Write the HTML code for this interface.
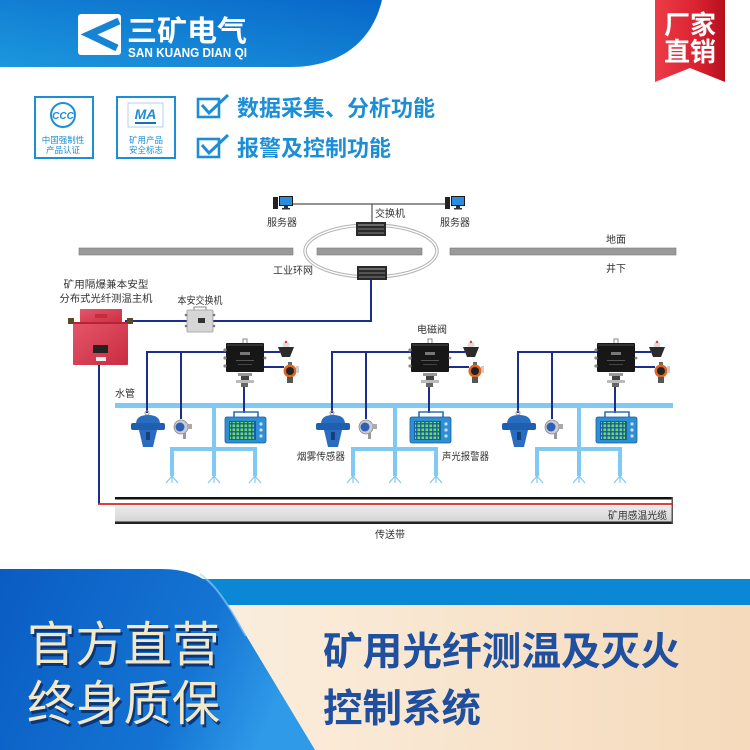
<!DOCTYPE html>
<html><head><meta charset="utf-8"><style>
html,body{margin:0;padding:0;background:#fff;}
svg{display:block;}
text{font-family:"Liberation Sans","Noto Sans CJK SC",sans-serif;}
</style></head><body>
<svg width="750" height="750" viewBox="0 0 750 750" xmlns="http://www.w3.org/2000/svg">
<defs>
<linearGradient id="hdr" x1="0" y1="1" x2="1" y2="0">
 <stop offset="0" stop-color="#1c97dd"/><stop offset="1" stop-color="#0867c9"/>
</linearGradient>
<linearGradient id="rib" x1="0" y1="0" x2="1" y2="0">
 <stop offset="0" stop-color="#ec3c48"/><stop offset="0.6" stop-color="#da2230"/><stop offset="1" stop-color="#b5101e"/>
</linearGradient>
<linearGradient id="cream" x1="0" y1="0" x2="1" y2="0">
 <stop offset="0" stop-color="#fdf6ec"/><stop offset="1" stop-color="#f5dabb"/>
</linearGradient>
<linearGradient id="lblue" x1="0" y1="0" x2="1" y2="0.25">
 <stop offset="0" stop-color="#0a5cc2"/><stop offset="0.7" stop-color="#1474d3"/><stop offset="1" stop-color="#2f9ae8"/>
</linearGradient>
<linearGradient id="belt" x1="0" y1="0" x2="0" y2="1">
 <stop offset="0" stop-color="#ececec"/><stop offset="1" stop-color="#d4d4d4"/>
</linearGradient>
<linearGradient id="hostg" x1="0" y1="0" x2="1" y2="1">
 <stop offset="0" stop-color="#e5566a"/><stop offset="1" stop-color="#c92c40"/>
</linearGradient>
<pattern id="grid" width="4" height="4" patternUnits="userSpaceOnUse">
 <rect x="0.5" y="0.5" width="2.6" height="2.6" fill="#6fdc6a"/>
</pattern>

<g id="dev">
 <!-- navy lines -->
 <path d="M147,413 V352 H226 M181,352 V419 M264,352 H280 M264,367 H284 M244,387 V413" stroke="#1c2d8c" stroke-width="2" fill="none"/>
 <!-- control box -->
 <path d="M243,343 V339 H247 V343" stroke="#888" stroke-width="1" fill="none"/>
 <rect x="226" y="343" width="38" height="29" fill="#171717" rx="1"/>
 <rect x="227" y="344" width="36" height="2" fill="#333"/>
 <rect x="240" y="352" width="10" height="3" fill="#777"/>
 <rect x="236" y="360" width="18" height="1" fill="#555"/>
 <rect x="238" y="364" width="14" height="1" fill="#444"/>
 <circle cx="225" cy="350" r="1.6" fill="#888"/><circle cx="225" cy="358" r="1.6" fill="#888"/><circle cx="225" cy="366" r="1.6" fill="#888"/>
 <circle cx="265" cy="358" r="1.4" fill="#888"/>
 <!-- valve -->
 <rect x="238" y="373" width="14" height="3" fill="#999"/>
 <rect x="241" y="376" width="8" height="5" fill="#444"/>
 <rect x="236" y="380" width="18" height="3" fill="#bbb"/>
 <rect x="241" y="383" width="7" height="4" fill="#666"/>
 <!-- beacon -->
 <circle cx="286" cy="345" r="3.5" fill="#ddd"/>
 <circle cx="286" cy="342" r="1.2" fill="#e33"/>
 <path d="M278,347 L294,347 L290,357 L282,357 Z" fill="#2b2b2b"/>
 <!-- gas detector -->
 <rect x="288" y="362" width="4" height="3" fill="#666"/>
 <circle cx="290" cy="371" r="6.5" fill="#e0661f"/>
 <circle cx="290" cy="371" r="4" fill="#222"/>
 <rect x="287" y="377" width="6" height="6" fill="#555"/>
 <rect x="296" y="366" width="3" height="7" fill="#ccc"/>
 <!-- smoke sensor -->
 <circle cx="147" cy="413" r="2" fill="none" stroke="#999" stroke-width="1"/>
 <path d="M136,424 Q136,415 148,415 Q160,415 160,424 Z" fill="#2a6cc0"/>
 <rect x="131" y="423" width="34" height="7" rx="2" fill="#1f5fb0"/>
 <path d="M139,430 L157,430 L153,447 L143,447 Z" fill="#2a6cc0"/>
 <rect x="146" y="432" width="4" height="8" fill="#163f7e"/>
 <!-- small sensor -->
 <circle cx="181" cy="427" r="7" fill="#c8ccd4" stroke="#888" stroke-width="0.8"/>
 <circle cx="180" cy="427" r="4.5" fill="#2f5fb5"/>
 <rect x="187" y="424" width="5" height="5" fill="#aaa"/>
 <rect x="183" y="433" width="3" height="6" fill="#999"/>
 <!-- alarm box -->
 <path d="M234,417 V412 H258 V417" stroke="#2a6fc0" stroke-width="1.6" fill="none"/>
 <rect x="225" y="417" width="41" height="26" rx="2" fill="#2d8fd6" stroke="#1d5fa0" stroke-width="0.8"/>
 <rect x="229" y="421" width="27" height="19" fill="#175f9e"/>
 <rect x="230" y="422" width="24" height="17" fill="url(#grid)"/>
 <circle cx="261" cy="424" r="1.6" fill="#cde"/><circle cx="261" cy="430" r="1.6" fill="#cde"/><circle cx="261" cy="436" r="1.6" fill="#cde"/>
</g>

<g id="pipe" fill="#80c9f2">
 <rect x="212" y="404" width="4" height="72"/>
 <rect x="170" y="447" width="87" height="4"/>
 <rect x="170" y="447" width="4" height="29"/>
 <rect x="253" y="447" width="4" height="29"/>
 <path d="M172,476 L166,483 M172,476 L172,483 M172,476 L178,483 M214,476 L208,483 M214,476 L214,483 M214,476 L220,483 M255,476 L249,483 M255,476 L255,483 M255,476 L261,483" stroke="#80c9f2" stroke-width="1.2" fill="none"/>
</g>
</defs>

<!-- HEADER -->
<path d="M0,0 L382,0 C372,42 340,67 290,67 L0,67 Z" fill="url(#hdr)"/>
<rect x="78" y="14" width="43" height="41" rx="3" fill="#fff"/>
<polyline points="119,21 89,34.5 117,48" stroke="#1583d6" stroke-width="7" fill="none" stroke-linejoin="miter"/>
<text x="127" y="41" font-size="29" font-weight="700" fill="#fff" textLength="120" lengthAdjust="spacingAndGlyphs">三矿电气</text>
<text x="128" y="57" font-size="13" font-weight="700" fill="#fff" textLength="119" lengthAdjust="spacingAndGlyphs">SAN KUANG DIAN QI</text>

<!-- ribbon -->
<path d="M655,0 L725,0 L725,82 L690,68 L655,82 Z" fill="url(#rib)"/>
<text x="690" y="34" font-size="26" font-weight="700" fill="#fff" text-anchor="middle">厂家</text>
<text x="690" y="61" font-size="26" font-weight="700" fill="#fff" text-anchor="middle">直销</text>

<!-- cert boxes -->
<rect x="35" y="97" width="58" height="61" fill="none" stroke="#1c8ed6" stroke-width="2"/>
<circle cx="63" cy="115" r="12" fill="none" stroke="#1c8ed6" stroke-width="2"/>
<text x="63" y="119" font-size="10" font-weight="700" font-style="italic" fill="#1c8ed6" text-anchor="middle">CCC</text>
<text x="63" y="143" font-size="8.5" fill="#1c8ed6" text-anchor="middle">中国强制性</text>
<text x="63" y="153" font-size="8.5" fill="#1c8ed6" text-anchor="middle">产品认证</text>
<rect x="117" y="97" width="58" height="61" fill="none" stroke="#1c8ed6" stroke-width="2"/>
<rect x="128" y="103" width="35" height="24" fill="none" stroke="#9cc7ea" stroke-width="0.8"/>
<text x="145.5" y="119" font-size="14" font-weight="700" font-style="italic" fill="#1c8ed6" text-anchor="middle">MA</text>
<rect x="135" y="122" width="21" height="2" fill="#1c6fb0"/>
<text x="146" y="143" font-size="8.5" fill="#1c8ed6" text-anchor="middle">矿用产品</text>
<text x="146" y="153" font-size="8.5" fill="#1c8ed6" text-anchor="middle">安全标志</text>

<!-- checks -->
<rect x="198" y="99" width="21" height="18" fill="none" stroke="#1c8ed6" stroke-width="2.6"/>
<polyline points="202,105 209,113 228,95" fill="none" stroke="#1c8ed6" stroke-width="3"/>
<text x="237" y="116" font-size="22" font-weight="700" fill="#1c8ed6" textLength="198" lengthAdjust="spacingAndGlyphs">数据采集、分析功能</text>
<rect x="198" y="139" width="21" height="18" fill="none" stroke="#1c8ed6" stroke-width="2.6"/>
<polyline points="202,145 209,153 228,135" fill="none" stroke="#1c8ed6" stroke-width="3"/>
<text x="237" y="156" font-size="22" font-weight="700" fill="#1c8ed6" textLength="154" lengthAdjust="spacingAndGlyphs">报警及控制功能</text>

<!-- NETWORK -->
<line x1="293" y1="204" x2="445" y2="204" stroke="#555" stroke-width="1.2"/>
<line x1="372" y1="204" x2="372" y2="222" stroke="#555" stroke-width="1.2"/>
<!-- PC1 -->
<rect x="273" y="197" width="5" height="12" fill="#222"/>
<rect x="279" y="196" width="14" height="10" fill="#1a1a1a"/>
<rect x="280" y="197" width="12" height="8" fill="#2a8ee0"/>
<rect x="284" y="206" width="4" height="2" fill="#333"/>
<rect x="282" y="208" width="8" height="1.5" fill="#333"/>
<!-- PC2 -->
<rect x="445" y="197" width="5" height="12" fill="#222"/>
<rect x="451" y="196" width="14" height="10" fill="#1a1a1a"/>
<rect x="452" y="197" width="12" height="8" fill="#2a8ee0"/>
<rect x="456" y="206" width="4" height="2" fill="#333"/>
<rect x="454" y="208" width="8" height="1.5" fill="#333"/>

<text x="282" y="226" font-size="10" fill="#333" text-anchor="middle">服务器</text>
<text x="455" y="226" font-size="10" fill="#333" text-anchor="middle">服务器</text>
<text x="390" y="217" font-size="10" fill="#333" text-anchor="middle">交换机</text>

<!-- bars -->
<rect x="79" y="248" width="214" height="7" fill="#9a9a9a" stroke="#7a7a7a" stroke-width="0.6"/>
<rect x="317" y="248" width="105" height="7" fill="#9a9a9a" stroke="#7a7a7a" stroke-width="0.6"/>
<rect x="450" y="248" width="226" height="7" fill="#9a9a9a" stroke="#7a7a7a" stroke-width="0.6"/>

<!-- ring -->
<ellipse cx="371" cy="251" rx="66" ry="26" fill="none" stroke="#b4b4b4" stroke-width="3.5"/>
<ellipse cx="371" cy="251" rx="66" ry="26" fill="none" stroke="#fff" stroke-width="1.4"/>

<!-- switches -->
<rect x="356" y="222" width="30" height="14" fill="#2a2a2a"/>
<rect x="358" y="224" width="26" height="2" fill="#6a6a6a"/>
<rect x="358" y="228" width="26" height="2" fill="#555"/>
<rect x="358" y="232" width="26" height="2" fill="#555"/>
<rect x="357" y="266" width="30" height="14" fill="#2a2a2a"/>
<rect x="359" y="268" width="26" height="2" fill="#6a6a6a"/>
<rect x="359" y="272" width="26" height="2" fill="#555"/>
<rect x="359" y="276" width="26" height="2" fill="#555"/>

<text x="606" y="243" font-size="10" fill="#333">地面</text>
<text x="606" y="272" font-size="10" fill="#333">井下</text>
<text x="273" y="274" font-size="10" fill="#333">工业环网</text>

<!-- host link -->
<path d="M125,321 H187 M213,321 H371 V280" stroke="#1c2d8c" stroke-width="2" fill="none"/>
<path d="M99,362 V504" stroke="#1c2d8c" stroke-width="2" fill="none"/>

<text x="106" y="288" font-size="10" fill="#333" text-anchor="middle" textLength="85" lengthAdjust="spacingAndGlyphs">矿用隔爆兼本安型</text>
<text x="106" y="302" font-size="10" fill="#333" text-anchor="middle" textLength="93" lengthAdjust="spacingAndGlyphs">分布式光纤测温主机</text>
<text x="200" y="304" font-size="10" fill="#333" text-anchor="middle" textLength="45" lengthAdjust="spacingAndGlyphs">本安交换机</text>

<!-- host -->
<rect x="68" y="318" width="6" height="6" fill="#5a4a2a"/>
<rect x="127" y="318" width="6" height="6" fill="#5a4a2a"/>
<rect x="80" y="309" width="42" height="15" fill="url(#hostg)"/>
<rect x="73" y="322" width="55" height="43" fill="url(#hostg)" rx="1"/>
<rect x="73" y="322" width="55" height="2" fill="#b82236"/>
<rect x="93" y="345" width="15" height="8" fill="#222"/>
<rect x="96" y="357" width="10" height="4" fill="#eee"/>
<rect x="95" y="314" width="12" height="4" fill="#c52a3e"/>

<!-- 本安交换机 -->
<path d="M194,310 V307 H206 V310" stroke="#888" stroke-width="1" fill="none"/>
<rect x="187" y="310" width="26" height="22" fill="#d6d6d6" stroke="#9a9a9a" stroke-width="0.8" rx="1"/>
<rect x="198" y="318" width="7" height="5" fill="#333"/>
<circle cx="186" cy="315" r="1.3" fill="#777"/><circle cx="186" cy="326" r="1.3" fill="#777"/>
<circle cx="214" cy="315" r="1.3" fill="#777"/><circle cx="214" cy="326" r="1.3" fill="#777"/>

<!-- water pipe -->
<rect x="115" y="403" width="558" height="5" fill="#80c9f2"/>
<use href="#pipe"/>
<use href="#pipe" x="181"/>
<use href="#pipe" x="365"/>

<!-- devices -->
<use href="#dev"/>
<use href="#dev" x="185"/>
<use href="#dev" x="371"/>

<text x="115" y="397" font-size="10" fill="#333">水管</text>
<text x="417" y="333" font-size="10" fill="#333">电磁阀</text>
<text x="297" y="460" font-size="10" fill="#333" textLength="48" lengthAdjust="spacingAndGlyphs">烟雾传感器</text>
<text x="442" y="460" font-size="10" fill="#333" textLength="47" lengthAdjust="spacingAndGlyphs">声光报警器</text>

<!-- belt -->
<rect x="115" y="497" width="558" height="2.5" fill="#111"/>
<rect x="115" y="506" width="558" height="16" fill="url(#belt)"/>
<rect x="115" y="521.5" width="558" height="2.5" fill="#222"/>
<rect x="671.5" y="497" width="1.5" height="27" fill="#555"/>
<line x1="98" y1="504" x2="673" y2="504" stroke="#e0201c" stroke-width="1.8"/>
<text x="608" y="519" font-size="10" fill="#333" textLength="59" lengthAdjust="spacingAndGlyphs">矿用感温光缆</text>
<text x="390" y="538" font-size="10" fill="#333" text-anchor="middle">传送带</text>

<!-- BOTTOM BANNER -->
<rect x="0" y="605" width="750" height="145" fill="url(#cream)"/>
<rect x="0" y="579" width="750" height="26" fill="#0a88d6"/>
<path d="M0,569 L160,569 C190,569 206,578 218,592 C228,604 236,618 244,632 L315,750 L0,750 Z" fill="url(#lblue)"/>
<path d="M200,574 C212,582 222,596 232,612 C238,622 242,630 246,636" stroke="#9fd4f7" stroke-width="2" fill="none" opacity="0.6"/>

<g font-size="48">
 <text x="29" y="664" fill="#0c3577" textLength="193" lengthAdjust="spacingAndGlyphs">官方直营</text>
 <text x="27" y="661" fill="#f3e8c8" textLength="193" lengthAdjust="spacingAndGlyphs">官方直营</text>
 <text x="29" y="723" fill="#0c3577" textLength="193" lengthAdjust="spacingAndGlyphs">终身质保</text>
 <text x="27" y="720" fill="#f3e8c8" textLength="193" lengthAdjust="spacingAndGlyphs">终身质保</text>
</g>
<text x="323" y="665" font-size="39" font-weight="700" fill="#1f4f9f" textLength="357" lengthAdjust="spacingAndGlyphs">矿用光纤测温及灭火</text>
<text x="323" y="722" font-size="39" font-weight="700" fill="#1f4f9f" textLength="158" lengthAdjust="spacingAndGlyphs">控制系统</text>
</svg>
</body></html>
